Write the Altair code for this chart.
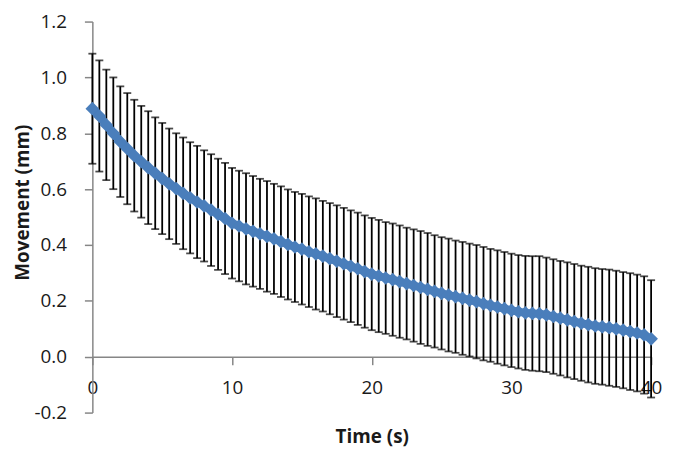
import altair as alt
import pandas as pd

time_s = [0, 0.5, 1, 1.5, 2, 2.5, 3, 3.5, 4, 4.5, 5, 5.5, 6, 6.5, 7, 7.5, 8, 8.5, 9, 9.5,
          10, 10.5, 11, 11.5, 12, 12.5, 13, 13.5, 14, 14.5, 15, 15.5, 16, 16.5, 17, 17.5, 18, 18.5, 19, 19.5,
          20, 20.5, 21, 21.5, 22, 22.5, 23, 23.5, 24, 24.5, 25, 25.5, 26, 26.5, 27, 27.5, 28, 28.5, 29, 29.5,
          30, 30.5, 31, 31.5, 32, 32.5, 33, 33.5, 34, 34.5, 35, 35.5, 36, 36.5, 37, 37.5, 38, 38.5, 39, 39.5,
          40]

movement_mm = [0.888, 0.862, 0.830, 0.800, 0.770, 0.745, 0.720, 0.698, 0.677, 0.657,
               0.638, 0.619, 0.602, 0.585, 0.569, 0.554, 0.540, 0.525, 0.510, 0.495,
               0.478, 0.468, 0.458, 0.449, 0.440, 0.431, 0.422, 0.412, 0.402, 0.393,
               0.385, 0.376, 0.368, 0.360, 0.351, 0.342, 0.333, 0.324, 0.315, 0.305,
               0.296, 0.289, 0.282, 0.276, 0.269, 0.262, 0.255, 0.248, 0.241, 0.234,
               0.227, 0.221, 0.215, 0.209, 0.203, 0.197, 0.190, 0.184, 0.178, 0.172,
               0.166, 0.161, 0.157, 0.155, 0.154, 0.150, 0.144, 0.138, 0.132, 0.126,
               0.120, 0.115, 0.110, 0.107, 0.104, 0.100, 0.095, 0.090, 0.085, 0.078,
               0.064]

sd_mm = [0.197, 0.199, 0.198, 0.200, 0.198, 0.199, 0.200, 0.200, 0.202, 0.200,
         0.199, 0.198, 0.198, 0.200, 0.199, 0.201, 0.199, 0.200, 0.199, 0.199,
         0.198, 0.198, 0.199, 0.198, 0.197, 0.198, 0.197, 0.198, 0.197, 0.197,
         0.198, 0.198, 0.199, 0.198, 0.199, 0.200, 0.200, 0.200, 0.201, 0.201,
         0.201, 0.201, 0.200, 0.201, 0.201, 0.200, 0.201, 0.202, 0.202, 0.201,
         0.201, 0.202, 0.201, 0.202, 0.202, 0.203, 0.203, 0.202, 0.203, 0.203,
         0.203, 0.203, 0.204, 0.205, 0.206, 0.205, 0.205, 0.205, 0.206, 0.206,
         0.206, 0.207, 0.207, 0.207, 0.208, 0.208, 0.208, 0.209, 0.209, 0.210,
         0.210]

df = pd.DataFrame({"t": time_s, "m": movement_mm, "sd": sd_mm})
df["lo"] = df["m"] - df["sd"]
df["hi"] = df["m"] + df["sd"]

FONT = "Open Sans"
BLUE = "#4A7EBB"
PLOT_H = 394
ZERO_OFFSET = PLOT_H * 0.2 / 1.4

x_enc = alt.X(
    "t:Q",
    scale=alt.Scale(domain=[0, 40], nice=False, zero=False),
    axis=alt.Axis(
        values=[0, 10, 20, 30, 40],
        title="Time (s)",
        offset=-ZERO_OFFSET,
        labelPadding=14,
        titleY=80,
        titleBaseline="middle",
        labelFlush=False,
    ),
)

y_axis = alt.Axis(
    values=[-0.2, 0, 0.2, 0.4, 0.6, 0.8, 1.0, 1.2],
    title="Movement (mm)",
    labelExpr="datum.value < 0 ? '-' + format(-datum.value, '.1f') : format(datum.value, '.1f')",
    labelPadding=18,
    titleX=-70,
    titleY=182,
    titleBaseline="middle",
    titleAlign="center",
    labelFlush=False,
)
y_scale = alt.Scale(domain=[-0.2, 1.2], nice=False, zero=False)

base = alt.Chart(df)

rules = base.mark_rule(color="black", strokeWidth=1.8).encode(
    x=x_enc,
    y=alt.Y("lo:Q", scale=y_scale, axis=y_axis),
    y2="hi:Q",
)
cap_hi = base.mark_tick(orient="horizontal", size=8, thickness=1.8, color="black").encode(
    x=x_enc, y=alt.Y("hi:Q", scale=y_scale, axis=y_axis)
)
cap_lo = base.mark_tick(orient="horizontal", size=8, thickness=1.8, color="black").encode(
    x=x_enc, y=alt.Y("lo:Q", scale=y_scale, axis=y_axis)
)
line = base.mark_line(color=BLUE, strokeWidth=8).encode(
    x=x_enc, y=alt.Y("m:Q", scale=y_scale, axis=y_axis)
)
pts = base.mark_point(shape="diamond", filled=True, size=190, color=BLUE, opacity=1).encode(
    x=x_enc, y=alt.Y("m:Q", scale=y_scale, axis=y_axis)
)

chart = (
    alt.layer(rules, cap_hi, cap_lo, line, pts)
    .properties(
        width=563,
        height=PLOT_H,
        autosize=alt.AutoSizeParams(type="none"),
        padding={"left": 85, "top": 12, "right": 15, "bottom": 34},
    )
    .configure_view(strokeWidth=0)
    .configure_axis(
        grid=False,
        domainColor="#868686",
        domainWidth=1.5,
        tickColor="#868686",
        tickWidth=1.5,
        tickSize=8,
        labelFont=FONT,
        labelFontSize=19,
        labelColor="#1a1a1a",
        titleFont=FONT,
        titleFontSize=19,
        titleFontWeight="bold",
        titleColor="#1a1a1a",
    )
)

chart.save("out.html", embed_options={"renderer": "svg", "actions": False})
